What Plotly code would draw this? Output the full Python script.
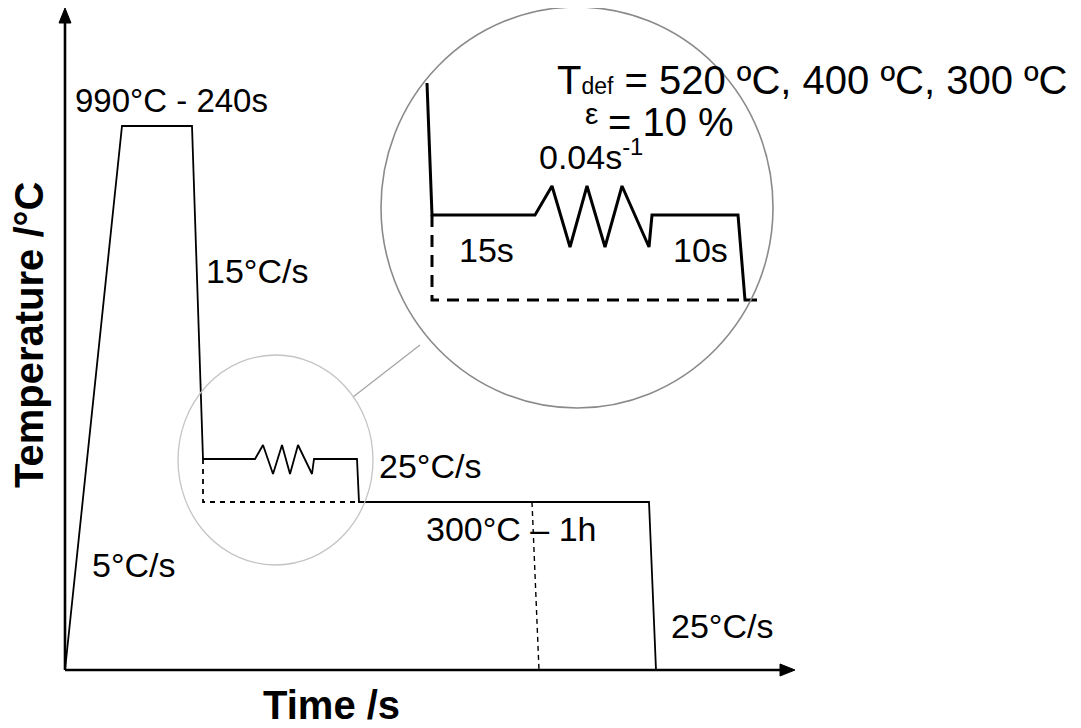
import plotly.graph_objects as go

# ---- Schematic data (time units, temperature units; origin at axis corner) ----
# Main thermal cycle
main_t = [0, 57, 127, 138, 190, 198, 208, 217, 225, 233, 247, 249, 292, 294, 584, 591]
main_T = [0, 544, 544, 211, 211, 225, 196, 225, 196, 225, 196, 211, 211, 168, 168, 0]

# Dashed reference lines of the main cycle
dash1_t = [138, 138, 294]
dash1_T = [211, 168, 168]
dash2_t = [467, 474]
dash2_T = [168, 0]

# Zoomed inset cycle
inset_t = [362, 367, 470, 487, 505, 522, 540, 557, 584, 587, 673, 680, 692]
inset_T = [587, 455, 455, 484, 423, 484, 423, 484, 423, 455, 455, 370, 370]
inset_dash_t = [367, 367, 680]
inset_dash_T = [455, 370, 370]

# Magnifier circles (bounds) and connector
small_circle = dict(t0=113, t1=308, T0=105, T1=315)
big_circle = dict(t0=316, t1=708, T0=262, T1=663)
conn_t = [288, 355]
conn_T = [273, 325]

# Axes extents
axis_t_end = 730
axis_T_end = 662

# Labels: (text, t, T, anchor, size)
labels = [
    ("990°C - 240s", 8, 570, "left", 33),
    ("15°C/s", 139, 399, "left", 34),
    ("25°C/s", 312, 204, "left", 34),
    ("300°C – 1h", 534, 141, "right", 34),
    ("5°C/s", 25, 105, "left", 34),
    ("25°C/s", 604, 44, "left", 34),
    ("15s", 392, 420, "left", 34),
    ("10s", 606, 420, "left", 34),
    ("0.04s<sup>-1</sup>", 472, 516, "left", 34),
    ("T<span style='font-size:23px'>def</span> = 520 ºC, 400 ºC, 300 ºC", 490, 590, "left", 40),
    ("ε", 518, 557, "left", 30),
    ("= 10 %", 541, 548, "left", 40),
]

FONT = "Liberation Sans, Arial, sans-serif"

fig = go.Figure()

def line(t, T, width, color="black", dash="solid"):
    fig.add_trace(go.Scatter(x=t, y=T, mode="lines",
                             line=dict(color=color, width=width, dash=dash),
                             hoverinfo="skip", showlegend=False))

# connector
line(conn_t, conn_T, 1.3, color="#a6a6a6")

# axes
line([0, 0], [0, axis_T_end - 12], 2.6)
line([0, axis_t_end - 12], [0, 0], 2.6)
fig.add_trace(go.Scatter(x=[-6, 0, 6, -6], y=[axis_T_end - 15, axis_T_end, axis_T_end - 15, axis_T_end - 15],
                         mode="lines", fill="toself", fillcolor="black",
                         line=dict(color="black", width=1), hoverinfo="skip", showlegend=False))
fig.add_trace(go.Scatter(x=[axis_t_end - 15, axis_t_end, axis_t_end - 15, axis_t_end - 15], y=[-6, 0, 6, -6],
                         mode="lines", fill="toself", fillcolor="black",
                         line=dict(color="black", width=1), hoverinfo="skip", showlegend=False))

# main cycle
line(main_t, main_T, 1.8)
line(dash1_t, dash1_T, 1.8, dash="5px,5px")
line(dash2_t, dash2_T, 1.4, dash="5px,4px")

# inset
line(inset_t, inset_T, 3)
line(inset_dash_t, inset_dash_T, 3, dash="12px,8px")

# circles
fig.add_shape(type="circle", xref="x", yref="y",
              x0=small_circle["t0"], x1=small_circle["t1"],
              y0=small_circle["T0"], y1=small_circle["T1"],
              line=dict(color="#c4c4c4", width=1.3))
fig.add_shape(type="circle", xref="x", yref="y",
              x0=big_circle["t0"], x1=big_circle["t1"],
              y0=big_circle["T0"], y1=big_circle["T1"],
              line=dict(color="#8a8a8a", width=1.6))

for text, t, T, anchor, size in labels:
    fig.add_annotation(x=t, y=T, text=text, showarrow=False, xanchor=anchor, yanchor="middle",
                       font=dict(family=FONT, size=size, color="black"))

# axis titles
fig.add_annotation(x=196, y=-35, text="<b>Time /s</b>", showarrow=False, xanchor="left", yanchor="middle",
                   font=dict(family=FONT, size=40, color="black"))
fig.add_annotation(x=-36, y=335, text="<b>Temperature /°C</b>", showarrow=False, textangle=-90,
                   xanchor="center", yanchor="middle",
                   font=dict(family=FONT, size=40, color="black"))

# The page body adds an 8px offset, so the ranges are shifted by 8 units to compensate
fig.update_layout(
    width=1081, height=728,
    margin=dict(l=0, r=0, t=0, b=0),
    paper_bgcolor="white", plot_bgcolor="white",
    xaxis=dict(range=[-57, 1024], visible=False, fixedrange=True),
    yaxis=dict(range=[-66, 662], visible=False, fixedrange=True),
    showlegend=False,
)

fig.write_html("out.html", config={"displayModeBar": False})
